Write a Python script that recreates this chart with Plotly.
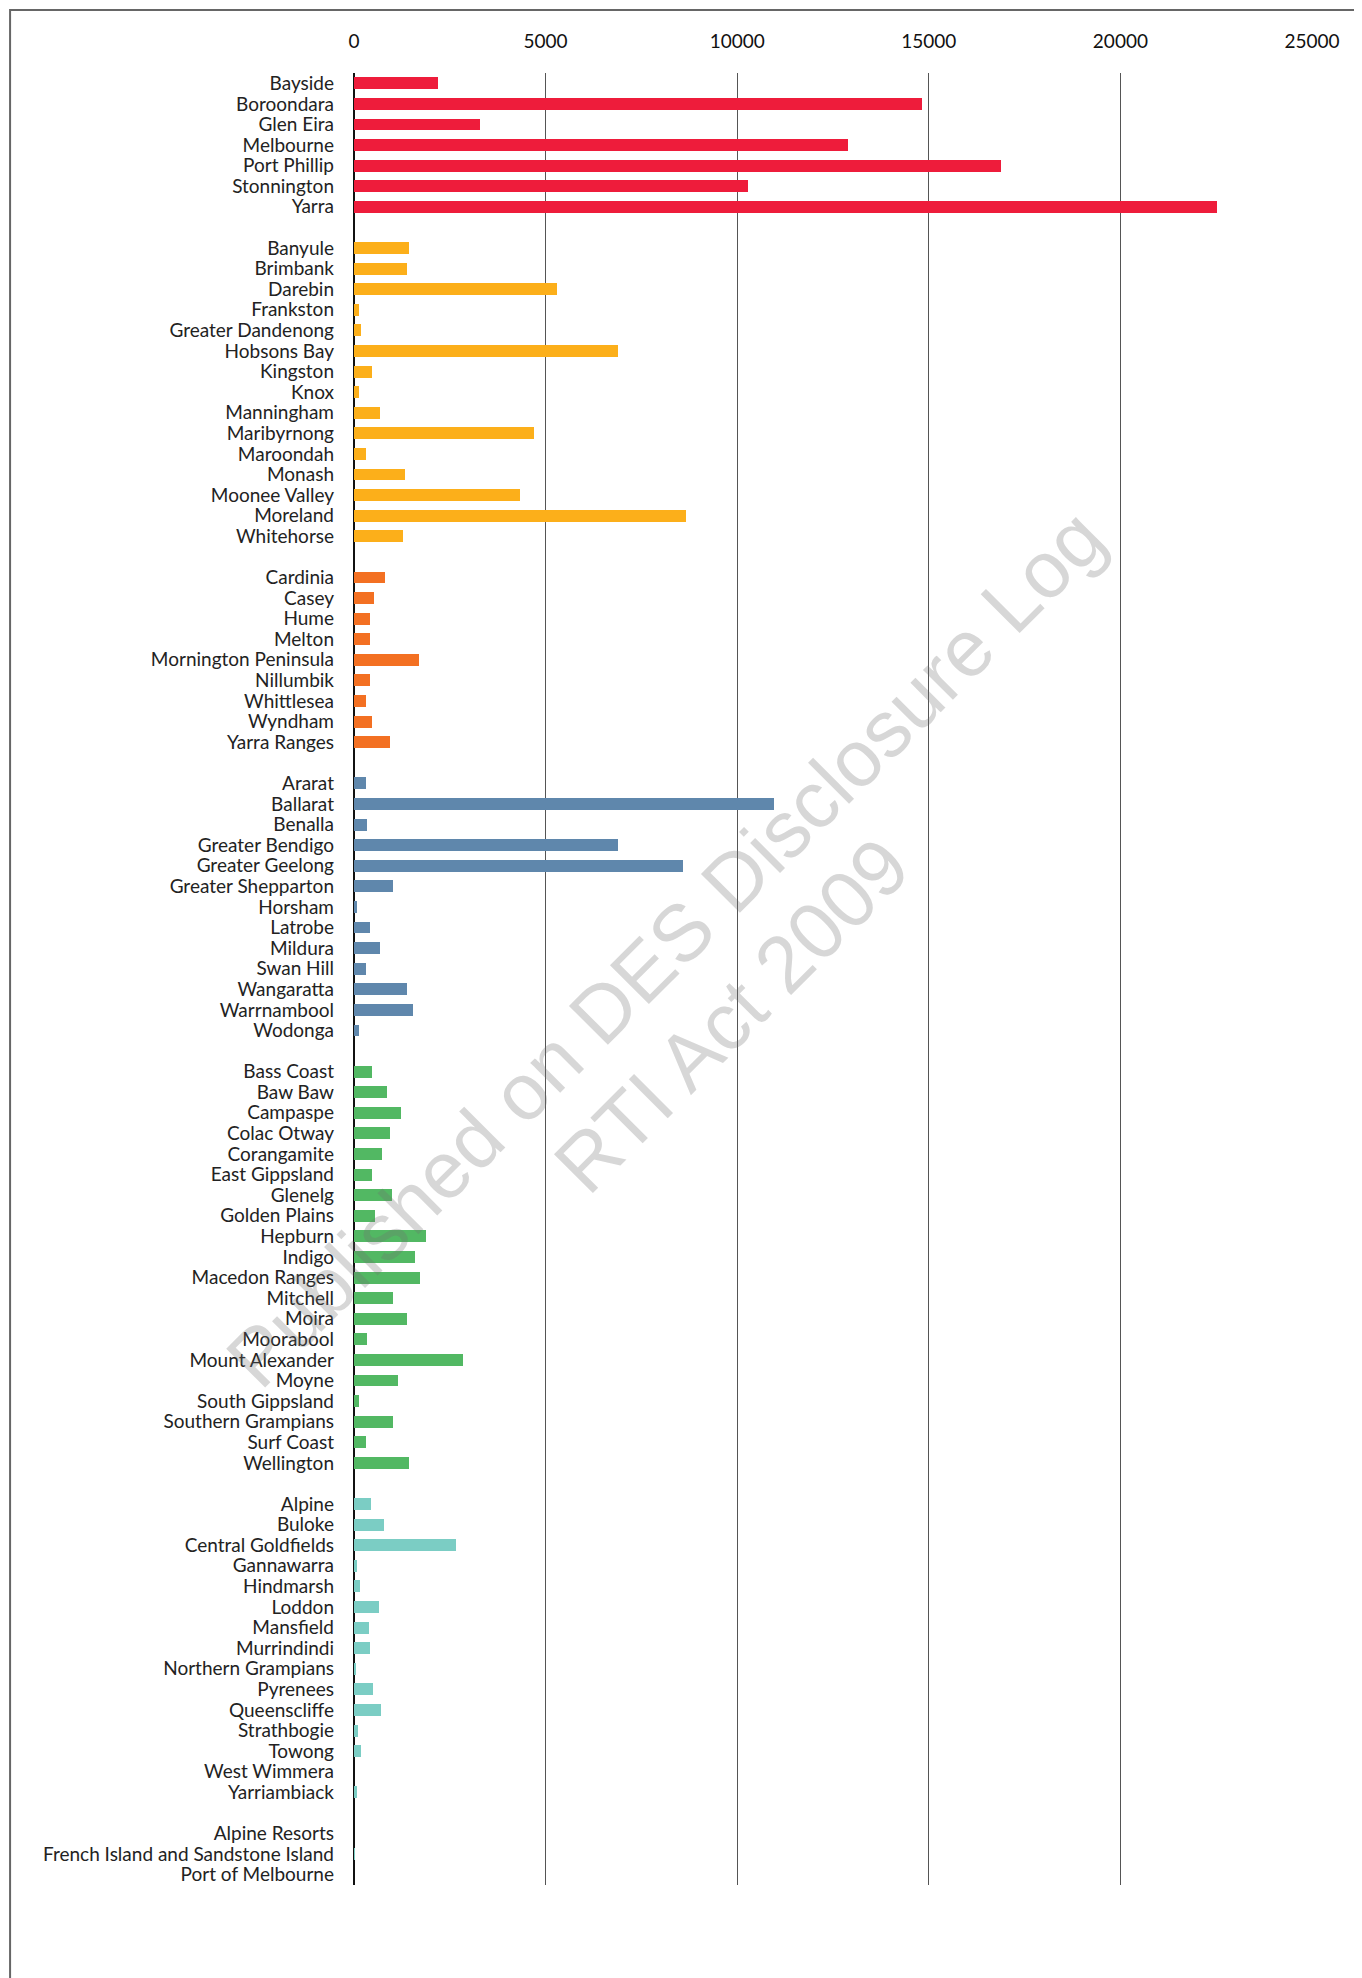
import plotly.graph_objects as go

# Councils grouped by region
metro_inner = ["Bayside", "Boroondara", "Glen Eira", "Melbourne", "Port Phillip", "Stonnington", "Yarra"]
metro_inner_vals = [2190, 14810, 3290, 12880, 16880, 10270, 22520]

metro_middle = ["Banyule", "Brimbank", "Darebin", "Frankston", "Greater Dandenong", "Hobsons Bay",
                "Kingston", "Knox", "Manningham", "Maribyrnong", "Maroondah", "Monash",
                "Moonee Valley", "Moreland", "Whitehorse"]
metro_middle_vals = [1430, 1370, 5310, 140, 170, 6900, 460, 120, 690, 4710, 300, 1320, 4320, 8670, 1270]

metro_outer = ["Cardinia", "Casey", "Hume", "Melton", "Mornington Peninsula", "Nillumbik",
               "Whittlesea", "Wyndham", "Yarra Ranges"]
metro_outer_vals = [820, 510, 410, 430, 1690, 430, 300, 460, 930]

regional_city = ["Ararat", "Ballarat", "Benalla", "Greater Bendigo", "Greater Geelong",
                 "Greater Shepparton", "Horsham", "Latrobe", "Mildura", "Swan Hill",
                 "Wangaratta", "Warrnambool", "Wodonga"]
regional_city_vals = [300, 10950, 330, 6880, 8590, 1010, 70, 430, 690, 300, 1370, 1530, 140]

regional_large = ["Bass Coast", "Baw Baw", "Campaspe", "Colac Otway", "Corangamite", "East Gippsland",
                  "Glenelg", "Golden Plains", "Hepburn", "Indigo", "Macedon Ranges", "Mitchell",
                  "Moira", "Moorabool", "Mount Alexander", "Moyne", "South Gippsland",
                  "Southern Grampians", "Surf Coast", "Wellington"]
regional_large_vals = [460, 850, 1220, 930, 720, 480, 980, 560, 1870, 1580, 1710, 1030,
                       1370, 330, 2850, 1140, 140, 1010, 300, 1430]

regional_small = ["Alpine", "Buloke", "Central Goldfields", "Gannawarra", "Hindmarsh", "Loddon",
                  "Mansfield", "Murrindindi", "Northern Grampians", "Pyrenees", "Queenscliffe",
                  "Strathbogie", "Towong", "West Wimmera", "Yarriambiack"]
regional_small_vals = [450, 770, 2650, 90, 160, 660, 400, 430, 30, 500, 710, 110, 190, 0, 90]

other = ["Alpine Resorts", "French Island and Sandstone Island", "Port of Melbourne"]
other_vals = [0, 10, 0]

x_ticks = [0, 5000, 10000, 15000, 20000, 25000]
x_tick_labels = ["0", "5000", "10000", "15000", "20000", "25000"]

groups = [
    (metro_inner, metro_inner_vals, "#EE1C3B"),
    (metro_middle, metro_middle_vals, "#FCAF1A"),
    (metro_outer, metro_outer_vals, "#F37022"),
    (regional_city, regional_city_vals, "#5F87AC"),
    (regional_large, regional_large_vals, "#52B863"),
    (regional_small, regional_small_vals, "#7BCDC4"),
    (other, other_vals, "#7BCDC4"),
]

fig = go.Figure()
tickvals, ticktext = [], []
row = 0
for names, vals, color in groups:
    ys = list(range(row, row + len(names)))
    fig.add_trace(go.Bar(
        x=vals, y=ys, orientation="h", marker_color=color,
        marker_line_width=0, width=0.58, showlegend=False,
        hovertext=names, hovertemplate="%{hovertext}: %{x}<extra></extra>",
    ))
    tickvals += ys
    ticktext += names
    row += len(names) + 1  # blank row between groups

n_rows = row - 1
font = "Lato, 'Open Sans', sans-serif"

fig.update_layout(
    width=1362, height=1978,
    margin=dict(l=346, r=58, t=65, b=101),
    plot_bgcolor="white", paper_bgcolor="white",
    font=dict(family=font, size=19, color="#222"),
    bargap=0,
)

fig.update_xaxes(
    side="top", range=[0, 25000], tickvals=x_ticks, ticktext=x_tick_labels,
    showgrid=True, gridcolor="#555", gridwidth=1,
    zeroline=True, zerolinecolor="#111", zerolinewidth=1.5,
    showline=False, ticks="", ticklabelstandoff=20,
    tickfont=dict(family=font, size=19, color="#111"),
)
fig.update_yaxes(
    range=[n_rows - 0.5, -0.5], tickvals=tickvals, ticktext=ticktext,
    showgrid=False, zeroline=False, showline=False, ticks="",
    ticklabelstandoff=19,
    tickfont=dict(family=font, size=19, color="#222"),
)

# page frame (top and left edges visible)
fig.add_shape(type="rect", xref="paper", yref="paper",
              x0=-0.359, x1=1.08, y0=-0.07, y1=1.0348,
              line=dict(color="#666", width=2), fillcolor="rgba(0,0,0,0)", layer="below")

# watermark
wm_font = dict(family="'Liberation Sans', Arial, sans-serif", size=80, color="rgba(110,110,110,0.28)")
fig.add_annotation(text="Published on DES Disclosure Log", xref="paper", yref="paper",
                   x=0.325, y=0.517, xanchor="center", yanchor="middle",
                   showarrow=False, textangle=-45, font=wm_font)
fig.add_annotation(text="RTI Act 2009", xref="paper", yref="paper",
                   x=0.394, y=0.480, xanchor="center", yanchor="middle",
                   showarrow=False, textangle=-45, font=wm_font)

fig.write_html("out.html")
